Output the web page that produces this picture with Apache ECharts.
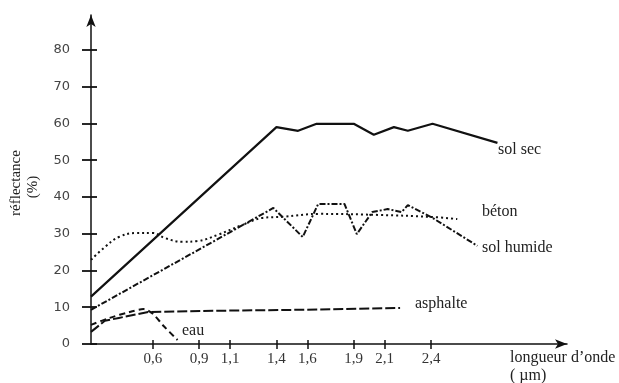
<!DOCTYPE html>
<html>
<head>
<meta charset="utf-8">
<script src="https://cdn.jsdelivr.net/npm/echarts@6/dist/echarts.min.js"></script>
<style>html,body{margin:0;padding:0;background:#fff}#c{width:619px;height:383px}</style>
</head>
<body>
<div id="c"></div>
<script>
// wavelength (µm) and reflectance (%)
const xTicks = [0.6, 0.9, 1.1, 1.4, 1.6, 1.9, 2.1, 2.4];
const yTicks = [0, 10, 20, 30, 40, 50, 60, 70, 80];

const solSecX = [0.2, 1.40, 1.54, 1.66, 1.90, 2.03, 2.16, 2.25, 2.41, 2.83];
const solSecY = [12.9, 59.0, 58.0, 59.9, 59.9, 56.9, 59.0, 58.0, 59.9, 54.7];

const solHumideX = [0.2, 1.38, 1.57, 1.67, 1.84, 1.92, 2.02, 2.12, 2.21, 2.25, 2.41, 2.70];
const solHumideY = [9.3, 37.0, 29.1, 38.1, 38.1, 29.9, 35.9, 36.7, 35.9, 37.8, 34.3, 26.7];

const betonX = [0.2, 0.29, 0.38, 0.49, 0.60, 0.68, 0.79, 0.89, 1.02, 1.18, 1.31, 1.44, 1.68, 2.07, 2.39, 2.57];
const betonY = [22.9, 26.4, 29.1, 30.2, 30.2, 28.8, 27.8, 28.0, 29.7, 32.4, 34.3, 34.6, 35.4, 35.1, 34.6, 34.0];

const asphalteX = [0.2, 0.29, 0.38, 0.57, 0.91, 1.55, 2.20];
const asphalteY = [3.3, 6.3, 7.1, 8.7, 9.0, 9.3, 9.8];

const eauX = [0.2, 0.32, 0.45, 0.54, 0.60, 0.67, 0.76];
const eauY = [5.2, 7.1, 8.7, 9.5, 8.2, 4.9, 1.1];

const zip = (xs, ys) => xs.map((x, i) => [x, ys[i]]);
const ink = '#111';
const serif = '"Liberation Serif", "DejaVu Serif", serif';

const chart = echarts.init(document.getElementById('c'), null, {renderer: 'canvas'});

const baseX = {
  type: 'value', min: 0.2, max: 3.28, position: 'bottom',
  splitLine: {show: false}
};
const baseY = {
  type: 'value', min: 0, max: 89.5, position: 'left',
  splitLine: {show: false}
};

function lineSeries(name, xs, ys, type, width, smooth) {
  return {
    name, type: 'line', data: zip(xs, ys), symbol: 'none', smooth: smooth || false,
    xAxisIndex: 0, yAxisIndex: 0, animation: false,
    lineStyle: {color: ink, width: width, type: type}
  };
}

chart.setOption({
  animation: false,
  grid: {left: 91, right: 52, top: 15, bottom: 39},
  xAxis: [
    Object.assign({}, baseX, {
      axisLine: {show: true, symbol: ['none', 'arrow'], symbolSize: [7, 12], lineStyle: {color: ink, width: 1.5}},
      axisTick: {show: true, length: 5, inside: false, customValues: xTicks, lineStyle: {color: ink, width: 1.5}},
      axisLabel: {show: true, customValues: xTicks, margin: 8, color: '#333', fontFamily: serif, fontSize: 15,
        formatter: v => v.toFixed(1).replace('.', ',')}
    }),
    Object.assign({}, baseX, {
      axisLine: {show: false},
      axisTick: {show: true, length: 4, inside: true, customValues: xTicks, lineStyle: {color: ink, width: 1.5}},
      axisLabel: {show: false}
    })
  ],
  yAxis: [
    Object.assign({}, baseY, {
      axisLine: {show: true, symbol: ['none', 'arrow'], symbolSize: [7, 12], lineStyle: {color: ink, width: 1.5}},
      axisTick: {show: true, length: 9, inside: false, customValues: yTicks, lineStyle: {color: ink, width: 1.8}},
      axisLabel: {show: true, customValues: yTicks, margin: 21, color: '#444', fontFamily: '"DejaVu Sans", sans-serif', fontSize: 13}
    }),
    Object.assign({}, baseY, {
      axisLine: {show: false},
      axisTick: {show: true, length: 6, inside: true, customValues: yTicks, lineStyle: {color: ink, width: 1.8}},
      axisLabel: {show: false}
    })
  ],
  graphic: [
    {type: 'text', x: 16, y: 183, rotation: Math.PI / 2,
      style: {text: 'réflectance', font: '15px ' + serif, fill: '#222', align: 'center', verticalAlign: 'middle'}},
    {type: 'text', x: 33, y: 187, rotation: Math.PI / 2,
      style: {text: '(%)', font: '15px ' + serif, fill: '#222', align: 'center', verticalAlign: 'middle'}},
    {type: 'text', x: 510, y: 358,
      style: {text: 'longueur d’onde', font: '16px ' + serif, fill: '#222', align: 'left', verticalAlign: 'middle'}},
    {type: 'text', x: 510, y: 376,
      style: {text: '( µm)', font: '16px ' + serif, fill: '#222', align: 'left', verticalAlign: 'middle'}},
    {type: 'text', x: 498, y: 150,
      style: {text: 'sol sec', font: '16px ' + serif, fill: '#222', align: 'left', verticalAlign: 'middle'}},
    {type: 'text', x: 482, y: 212,
      style: {text: 'béton', font: '16px ' + serif, fill: '#222', align: 'left', verticalAlign: 'middle'}},
    {type: 'text', x: 482, y: 248,
      style: {text: 'sol humide', font: '16px ' + serif, fill: '#222', align: 'left', verticalAlign: 'middle'}},
    {type: 'text', x: 415, y: 304,
      style: {text: 'asphalte', font: '16px ' + serif, fill: '#222', align: 'left', verticalAlign: 'middle'}},
    {type: 'text', x: 182, y: 331,
      style: {text: 'eau', font: '16px ' + serif, fill: '#222', align: 'left', verticalAlign: 'middle'}}
  ],
  series: [
    lineSeries('sol sec', solSecX, solSecY, 'solid', 2.2),
    lineSeries('sol humide', solHumideX, solHumideY, [6, 2, 2, 2], 2),
    lineSeries('béton', betonX, betonY, [2, 3], 2, 0.4),
    lineSeries('asphalte', asphalteX, asphalteY, [10, 3], 2),
    lineSeries('eau', eauX, eauY, [6, 4], 2, 0.3)
  ]
});
</script>
</body>
</html>
